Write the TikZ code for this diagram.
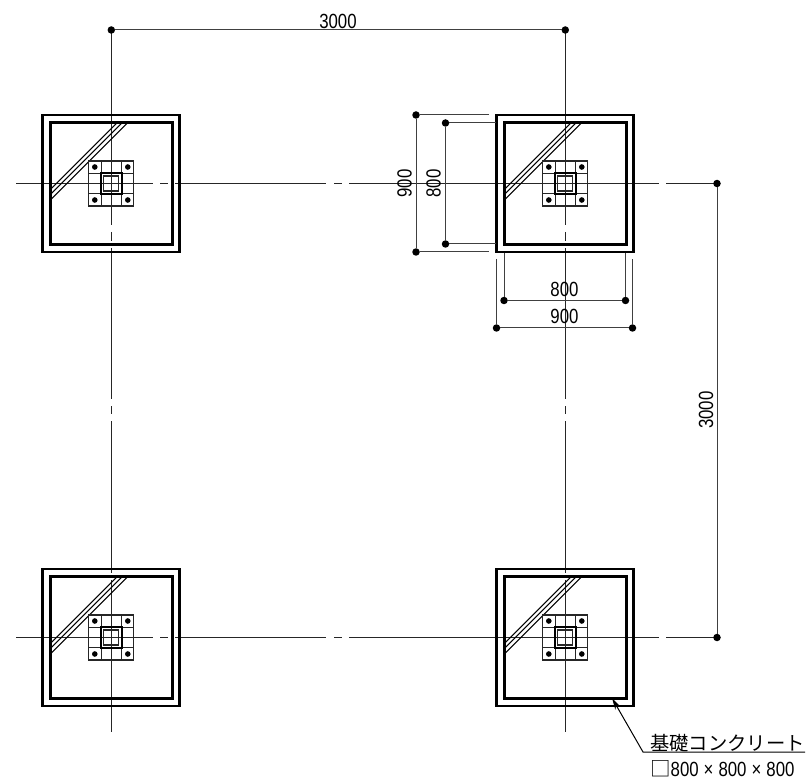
\documentclass[tikz,border=0pt]{standalone}
\usepackage{fontspec}
\usetikzlibrary{arrows.meta}
\newfontfamily\dimfont[FakeStretch=0.82]{Liberation Sans}
\newfontfamily\cjkfont{Noto Sans CJK JP}
\tikzset{
    dimdot/.style={shape=circle,fill=black,minimum size=7.5pt,inner sep=0pt,outer sep=0pt},
    dimline/.style={line width=1pt,black!75},
    centerline/.style={line width=1pt,black!85},
    dimtext/.style={inner sep=0pt,font=\dimfont\fontsize{20.5}{20.5}\selectfont}
}
\begin{document}
\begin{tikzpicture}[x=1pt,y=-1pt]
    \useasboundingbox (0,0) rectangle (808,783);
    \foreach \cy in {183.5,637.5} {
    \draw[centerline] (16,\cy)--(153,\cy) (160,\cy)--(168,\cy) (175,\cy)--(326,\cy) (334,\cy)--(342,\cy) (349,\cy)--(659,\cy) (666,\cy)--(717,\cy);
    }
    \foreach \cx in {111.3,565.3} {
    \draw[centerline] (\cx,30)--(\cx,225) (\cx,232)--(\cx,241) (\cx,248)--(\cx,399) (\cx,406)--(\cx,414) (\cx,421)--(\cx,573) (\cx,580)--(\cx,732);
    }
    \foreach \cx/\cy in {111.3/183.5,565.3/183.5,111.3/637.5,565.3/637.5} {
    \begin{scope}[shift={(\cx,\cy)}]
    \draw[line width=2.8pt] (-68.5,-68.5) rectangle (68.5,68.5);
    \draw[line width=2.6pt] (-61,-61) rectangle (61,61);
    \draw[line width=1.1pt] (6,-61)--(-61,6) (11,-61)--(-61,11) (16.5,-61)--(-61,16.5);
    \draw[line width=1.3pt,black!85] (-22.5,-22.5) rectangle (22.5,22.5);
    \draw[line width=1.6pt,black!85] (-10,-22.5)--(-10,22.5) (10,-22.5)--(10,22.5) (-22.5,-10)--(22.5,-10) (-22.5,10)--(22.5,10);
    \draw[line width=2.6pt] (-10.5,-10.5) rectangle (10.5,10.5);
    \draw[line width=1.3pt,black!85] (-7.5,-7.5) rectangle (7.5,7.5);
    \foreach \bx/\by in {-16.5/-16.5,16.5/-16.5,-16.5/16.5,16.5/16.5} {
    \fill (\bx,\by) circle[radius=2.8];
    }
    \end{scope}
    }
    \node[dimdot] (spanL) at (111.3,30) {};
    \node[dimdot] (spanR) at (565.3,30) {};
    \draw[dimline] (spanL)--(spanR);
    \node[dimtext] (spanT) at (338,21) {3000};
    \node[dimdot] (riseT) at (717,183.5) {};
    \node[dimdot] (riseB) at (717,637.5) {};
    \draw[dimline] (riseT)--(riseB);
    \node[dimtext,rotate=90] (riseN) at (706,410) {3000};
    \node[dimdot] (outerT) at (416,115) {};
    \node[dimdot] (outerB) at (416,252) {};
    \coordinate (outerTe) at (489,115);
    \coordinate (outerBe) at (489,252);
    \draw[dimline] (outerTe)--(outerT)--(outerB)--(outerBe);
    \node[dimtext,rotate=90] (outerN) at (404.5,183.5) {900};
    \node[dimdot] (innerT) at (445.5,123) {};
    \node[dimdot] (innerB) at (445.5,244) {};
    \coordinate (innerTe) at (496,123);
    \coordinate (innerBe) at (496,244);
    \draw[dimline] (innerTe)--(innerT)--(innerB)--(innerBe);
    \node[dimtext,rotate=90] (innerN) at (433.5,183.5) {800};
    \node[dimdot] (innerL) at (504,300.5) {};
    \node[dimdot] (innerR) at (625.5,300.5) {};
    \coordinate (innerLe) at (504,253);
    \coordinate (innerRe) at (625.5,253);
    \draw[dimline] (innerLe)--(innerL)--(innerR)--(innerRe);
    \node[dimtext] (innerM) at (564.5,289.5) {800};
    \node[dimdot] (outerL) at (496.5,328) {};
    \node[dimdot] (outerR) at (632.5,328) {};
    \coordinate (outerLe) at (496.5,259);
    \coordinate (outerRe) at (632.5,259);
    \draw[dimline] (outerLe)--(outerL)--(outerR)--(outerRe);
    \node[dimtext] (outerM) at (564.5,316.5) {900};
    \coordinate (tip) at (612,698);
    \coordinate (bend) at (643,752);
    \coordinate (tail) at (805,752);
    \draw[line width=1pt,-{Stealth[length=12pt,width=6pt]}] (tail)--(bend)--(tip);
    \node[anchor=base west,inner sep=0pt,font=\cjkfont\fontsize{19.3}{19.3}\selectfont] (found) at (650,750) {基礎コンクリート};
    \node[anchor=base west,inner sep=0pt,font=\dimfont\fontsize{20.5}{20.5}\selectfont] (size) at (650,776) {{\cjkfont □}800\kern5pt×\kern5pt800\kern5pt×\kern5pt800};
\end{tikzpicture}
\end{document}
